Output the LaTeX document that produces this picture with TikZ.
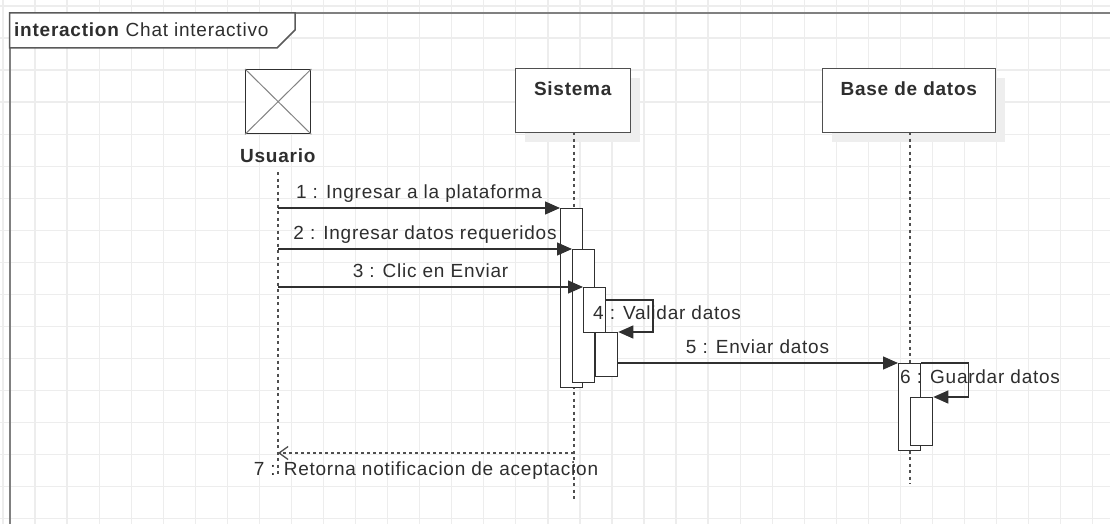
\documentclass[tikz,border=0pt]{standalone}
\usepackage{fontspec}
\setmainfont{Liberation Sans}[LetterSpace=4]
\usetikzlibrary{arrows.meta, positioning, shadows}
\definecolor{umlline}{HTML}{303030}
\definecolor{umltext}{HTML}{2E2E2E}
\definecolor{gridgray}{HTML}{EDEDED}
\definecolor{framegray}{HTML}{808080}
\definecolor{shadowgray}{HTML}{EEEEEE}

\begin{document}
\begin{tikzpicture}[x=1pt, y=-1pt,
    every node/.style={font=\fontsize{19}{22}\selectfont, text=umltext, inner sep=0pt},
    gridline/.style={gridgray, line width=1.3pt},
    frameline/.style={framegray, line width=2pt},
    headbox/.style={draw=umlline!85, fill=white, line width=1.3pt, anchor=north west,
                    drop shadow={shadow xshift=9pt, shadow yshift=-9pt, fill=shadowgray, opacity=1}},
    lifeline/.style={umlline!85, line width=1.5pt, dash pattern=on 3pt off 3.5pt},
    actbox/.style={draw=umlline, fill=white, line width=1.3pt, anchor=north west, minimum width=22pt},
    msg/.style={umlline, line width=1.3pt, -{Triangle[length=15pt, width=13pt]}},
    retmsg/.style={umlline!85, line width=1.5pt, dash pattern=on 3pt off 3pt,
                   -{Straight Barb[length=9pt, width=13pt, line width=1.3pt]}},
    msglabel/.style={anchor=base, yshift=10pt}]

\useasboundingbox (0,0) rectangle (1110,524);
\fill[white] (0,0) rectangle (1110,524);

% grid
\foreach \i in {0,...,34}
    \draw[gridline] ({3+32.05*\i},0) -- ++(0,524);
\foreach \j in {0,...,16}
    \draw[gridline] (0,{6+32.05*\j}) -- ++(1110,0);

% frame
\draw[frameline] (9.5,524) -- (9.5,13) -- (1110,13);
\draw[umlline!80, line width=1.5pt, fill=white] (9.5,13) -- (295,13) -- (295,30) -- (277,48) -- (9.5,48) -- cycle;
\node[anchor=base west] (title) at (14,37) {\textbf{interaction} Chat interactivo};

% heads
\node[draw=umlline, fill=white, line width=1.3pt, anchor=north west,
      minimum width=65pt, minimum height=64pt] (usr) at (245,69) {};
\draw[umlline!60, line width=1pt] (usr.north west) -- (usr.south east)
                                  (usr.north east) -- (usr.south west);
\node[below=14pt of usr.south] (usrname) {\textbf{Usuario}};

\node[headbox, minimum width=115pt, minimum height=64pt] (sys) at (515,68) {};
\node[below=14pt of sys.north] (sysname) {\textbf{Sistema}};

\node[headbox, minimum width=173pt, minimum height=64pt] (db) at (822,68) {};
\node[below=14pt of db.north] (dbname) {\textbf{Base de datos}};

% lifelines
\coordinate (usrTop) at (278,172);
\coordinate (usrEnd) at (278,476);
\coordinate (sysTop) at (574,132);
\coordinate (sysEnd) at (574,500);
\coordinate (dbTop) at (910,132);
\coordinate (dbEnd) at (910,484);
\draw[lifeline] (usrTop) -- (usrEnd);
\draw[lifeline] (sysTop) -- (sysEnd);
\draw[lifeline] (dbTop) -- (dbEnd);

% activations
\node[actbox, minimum height=179pt] (act1) at (560,208) {};
\node[actbox, minimum height=133pt] (act2) at (572,249) {};
\node[actbox, minimum height=45pt] (act3) at (583,287) {};
\node[actbox, minimum height=44pt] (act4) at (595,332) {};
\node[actbox, minimum height=87pt] (act5) at (898,363) {};
\node[actbox, minimum height=48pt] (act6) at (910,397) {};

% messages
\coordinate (u1) at (278,208);
\coordinate (u2) at (278,249);
\coordinate (u3) at (278,287);
\coordinate (s4) at (605,300);
\coordinate (s5) at (617,363);
\coordinate (s7) at (574,453);
\coordinate (u7) at (278,453);

\draw[msg] (u1) -- node[msglabel] {1 : Ingresar a la plataforma} (act1.north west);
\draw[msg] (u2) -- node[msglabel] {2 : Ingresar datos requeridos} (act2.north west);
\draw[msg] (u3) -- node[msglabel] {3 : Clic en Enviar} (act3.north west);
\draw[msg] (s4) -- ++(48,0) |- (act4.north east);
\node[anchor=base west] (m4) at (593,319) {4 : Validar datos};
\draw[msg] (s5) -- node[msglabel] {5 : Enviar datos} (act5.north west);
\draw[msg] (act5.north east) -- ++(47,0) |- (act6.north east);
\node[anchor=base west] (m6) at (900,383) {6 : Guardar datos};
\draw[retmsg] (s7) -- node[msglabel, yshift=-32pt] {7 : Retorna notificacion de aceptacion} (u7);

\end{tikzpicture}
\end{document}
